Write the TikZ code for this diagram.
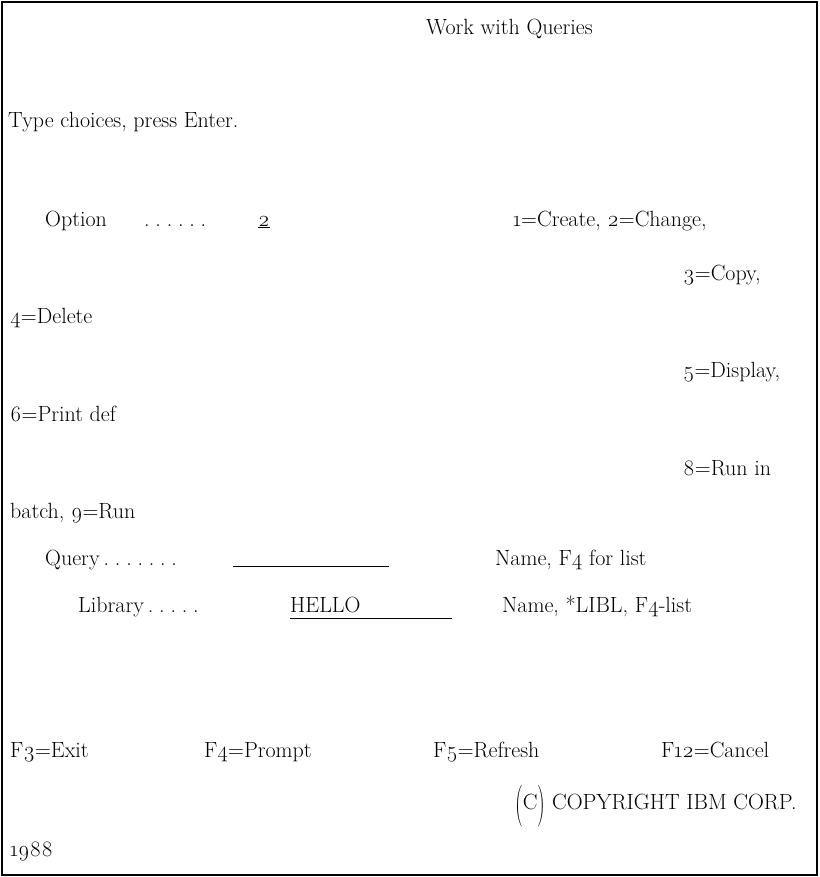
\documentclass[tikz,border=0pt]{standalone}
\usepackage{fontspec}
\setmainfont{Latin Modern Roman}[Numbers=OldStyle]
\usepackage{tikz}

\newcommand{\dotgap}{.\hspace{5.8pt}}
\newcommand{\tallparen}[1]{\raisebox{-7.5pt}{\scalebox{1}[1.9]{#1}}}

\tikzset{
  scrtext/.style={anchor=base west, inner sep=0pt, font=\fontsize{22}{26}\selectfont},
  fieldline/.style={line width=0.8pt}
}

\begin{document}
\begin{tikzpicture}[x=1pt, y=-1pt]
            \useasboundingbox (0,0) rectangle (819,877);
            \draw[line width=1.6pt] (2,2) rectangle (817,875);

            \node[scrtext] (title) at (426,35) {Work with Queries};
            \node[scrtext] (type) at (8,128) {Type choices, press Enter.};

            % option line
            \node[scrtext] (option) at (45,226) {Option};
            \node[scrtext] (optdots) at (144,226) {\dotgap\dotgap\dotgap\dotgap\dotgap.};
            \node[scrtext] (optval) at (258,226) {\underline{2}};
            \node[scrtext] (opt1) at (513,226) {1=Create, 2=Change,};
            \node[scrtext] (opt3) at (683,280) {3=Copy,};
            \node[scrtext] (opt4) at (10,323) {4=Delete};
            \node[scrtext] (opt5) at (683,377) {5=Display,};
            \node[scrtext] (opt6) at (10,421) {6=Print def};
            \node[scrtext] (opt8) at (683,475) {8=Run in};
            \node[scrtext] (opt9) at (10,518) {batch, 9=Run};

            % query and library
            \node[scrtext] (query) at (45,565) {Query\hspace{4pt}\dotgap\dotgap\dotgap\dotgap\dotgap\dotgap.};
            \coordinate (qa) at (233,566);
            \coordinate (qb) at (389,566);
            \draw[fieldline] (qa) -- (qb);
            \node[scrtext] (qhelp) at (495,565) {Name, F4 for list};

            \node[scrtext] (library) at (78,612) {Library\hspace{4pt}\dotgap\dotgap\dotgap\dotgap.};
            \node[scrtext] (libval) at (290,612) {HELLO};
            \coordinate (la) at (290,618);
            \coordinate (lb) at (452,618);
            \draw[fieldline] (la) -- (lb);
            \node[scrtext] (lhelp) at (502,612) {Name, *LIBL, F4-list};

            % function keys
            \node[scrtext] (f3) at (10,757) {F3=Exit};
            \node[scrtext] (f4) at (204,757) {F4=Prompt};
            \node[scrtext] (f5) at (433,757) {F5=Refresh};
            \node[scrtext] (f12) at (661,757) {F12=Cancel};

            \node[scrtext] (copy) at (515,809) {\tallparen{(}C\tallparen{)} COPYRIGHT IBM CORP.};
            \node[scrtext] (year) at (10,856) {1988};
        \end{tikzpicture}
\end{document}
